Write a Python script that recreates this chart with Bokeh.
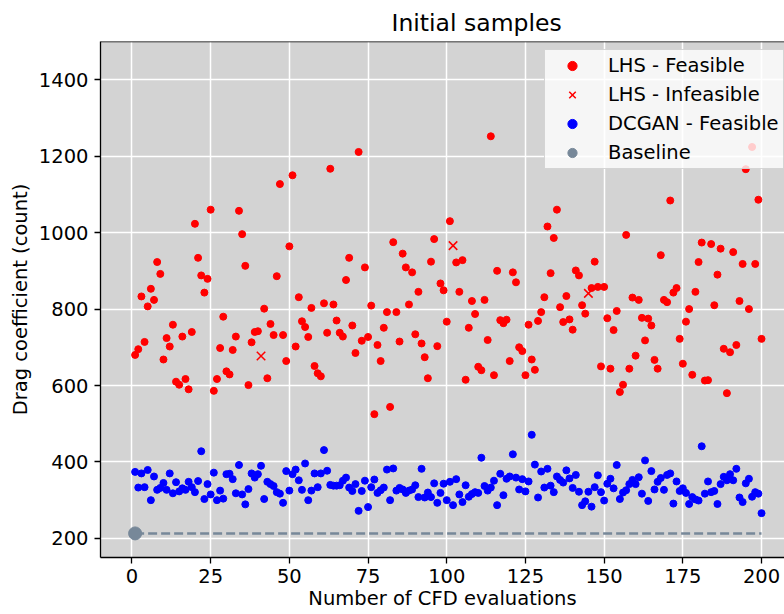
from bokeh.plotting import figure
from bokeh.models import Range1d, FixedTicker, Span, Legend, LegendItem
from bokeh.embed import file_html
from bokeh.resources import INLINE

# ---------------- data ----------------
evals = list(range(1, 201))

lhs_drag = [
    680, 695, 833, 714, 807, 853, 824, 923, 892, 668,
    724, 702, 759, 610, 602, 728, 617, 590, 740, 1023,
    934, 888, 843, 879, 1060, 586, 617, 698, 780, 637,
    629, 693, 728, 1057, 996, 913, 601, 713, 740, 742,
    677, 801, 619, 761, 732, 886, 1127, 732, 664, 964,
    1150, 702, 831, 768, 753, 727, 803, 651, 632, 624,
    815, 738, 1167, 812, 770, 738, 728, 876, 934, 757,
    685, 1211, 717, 909, 727, 809, 525, 706, 664, 751,
    792, 544, 975, 792, 715, 945, 909, 812, 896, 734,
    845, 710, 674, 619, 924, 983, 703, 867, 849, 767,
    1030, 966, 922, 845, 928, 615, 751, 821, 787, 649,
    640, 824, 719, 1252, 627, 900, 771, 763, 772, 664,
    896, 870, 700, 690, 627, 759, 668, 641, 769, 792,
    831, 1016, 894, 986, 1060, 805, 766, 834, 773, 746,
    901, 888, 810, 788, 841, 855, 924, 858, 650, 858,
    776, 644, 745, 795, 583, 602, 994, 644, 830, 678,
    824, 777, 718, 775, 757, 667, 644, 941, 824, 818,
    1084, 843, 855, 722, 657, 767, 800, 628, 845, 923,
    974, 613, 614, 970, 810, 890, 958, 696, 580, 687,
    949, 706, 821, 918, 1166, 800, 1224, 918, 1086, 722,
]
lhs_infeasible_evals = [41, 102, 145]

dcgan_drag = [
    374, 333, 370, 334, 379, 300, 362, 327, 332, 345,
    327, 370, 318, 347, 323, 331, 327, 348, 334, 321,
    350, 428, 303, 342, 315, 372, 300, 325, 304, 368,
    369, 355, 318, 392, 315, 289, 329, 370, 359, 368,
    390, 303, 348, 342, 337, 321, 317, 293, 376, 325,
    368, 380, 352, 327, 396, 300, 325, 370, 334, 370,
    431, 377, 340, 338, 338, 339, 351, 359, 333, 324,
    342, 272, 324, 351, 282, 334, 354, 319, 326, 333,
    380, 300, 383, 325, 332, 328, 319, 325, 328, 339,
    308, 382, 307, 320, 308, 344, 293, 319, 343, 300,
    348, 287, 355, 315, 295, 339, 309, 316, 321, 319,
    411, 337, 325, 333, 351, 287, 369, 313, 356, 362,
    420, 359, 328, 355, 323, 349, 471, 393, 307, 375,
    333, 382, 338, 321, 362, 353, 346, 378, 357, 332,
    366, 322, 287, 297, 322, 283, 334, 365, 321, 299,
    343, 356, 331, 392, 303, 320, 326, 342, 353, 342,
    360, 317, 404, 298, 376, 328, 348, 358, 327, 366,
    370, 291, 349, 324, 331, 319, 290, 308, 302, 299,
    441, 317, 349, 321, 324, 290, 342, 361, 352, 368,
    352, 382, 307, 295, 344, 356, 309, 321, 317, 266,
]

baseline_drag = 213
baseline_span = [1, 200]

x_ticks = [0, 25, 50, 75, 100, 125, 150, 175, 200]
y_ticks = [200, 400, 600, 800, 1000, 1200, 1400]

feas_x = [e for e in evals if e not in lhs_infeasible_evals]
feas_y = [d for e, d in zip(evals, lhs_drag) if e not in lhs_infeasible_evals]
infeas_x = [e for e in evals if e in lhs_infeasible_evals]
infeas_y = [d for e, d in zip(evals, lhs_drag) if e in lhs_infeasible_evals]

FONT = "DejaVu Sans"
FS = "19.5px"

# ---------------- figure ----------------
p = figure(width=784, height=614, output_backend="svg", toolbar_location=None,
           x_range=Range1d(-10, 207.3), y_range=Range1d(150, 1500),
           min_border_left=100, min_border_right=0, min_border_top=41,
           min_border_bottom=57)

p.background_fill_color = "#d3d3d3"
p.border_fill_color = "white"
p.outline_line_color = None

p.title.text = "Initial samples"
p.title.text_font = FONT
p.title.text_font_size = "23.5px"
p.title.text_font_style = "normal"
p.title.align = "left"
p.title.offset = 291
p.title.standoff = 10
p.title.text_color = "black"

for ax in (p.xaxis[0], p.yaxis[0]):
    ax.major_label_text_font = FONT
    ax.major_label_text_font_size = FS
    ax.major_label_text_color = "black"
    ax.axis_label_text_font = FONT
    ax.axis_label_text_font_size = FS
    ax.axis_label_text_font_style = "normal"
    ax.axis_label_text_color = "black"
    ax.major_tick_out = 6
    ax.major_tick_in = 0
    ax.minor_tick_line_color = None
    ax.axis_line_width = 1.3
    ax.major_tick_line_width = 1.3
    ax.axis_line_color = "black"
    ax.major_tick_line_color = "black"

p.xaxis.ticker = FixedTicker(ticks=x_ticks)
p.yaxis.ticker = FixedTicker(ticks=y_ticks)
p.xaxis.axis_label = "Number of CFD evaluations"
p.yaxis.axis_label = "Drag coefficient (count)"
p.xaxis.major_label_standoff = 5
p.xaxis.axis_label_standoff = 1
p.yaxis.major_label_standoff = 6
p.yaxis.axis_label_standoff = 4

p.xgrid.ticker = FixedTicker(ticks=x_ticks)
p.ygrid.ticker = FixedTicker(ticks=y_ticks)
for g in (p.xgrid[0], p.ygrid[0]):
    g.grid_line_color = "white"
    g.grid_line_width = 1.5

# top spine
p.add_layout(Span(location=1500, dimension="width", line_color="black", line_width=1.5))

# ---------------- glyphs ----------------
r_feas = p.scatter(feas_x, feas_y, marker="circle", size=7,
                   fill_color="#ff0000", line_color="#ff0000")
r_infeas = p.scatter(infeas_x, infeas_y, marker="x", size=12,
                     line_color="#ff0000", line_width=1.5)
r_dcgan = p.scatter(evals, dcgan_drag, marker="circle", size=7,
                    fill_color="#0000ff", line_color="#0000ff")
p.line(baseline_span, [baseline_drag, baseline_drag], line_color="#778899",
       line_width=2.5, line_dash="9 4")
r_base = p.scatter([baseline_span[0]], [baseline_drag], marker="circle", size=13,
                   fill_color="#778899", line_color="#778899")

legend = Legend(items=[
    LegendItem(label="LHS - Feasible", renderers=[r_feas]),
    LegendItem(label="LHS - Infeasible", renderers=[r_infeas]),
    LegendItem(label="DCGAN - Feasible", renderers=[r_dcgan]),
    LegendItem(label="Baseline", renderers=[r_base]),
], location=(444, 388))
legend.margin = 0
legend.padding = 4
legend.spacing = 6
legend.glyph_width = 46
legend.glyph_height = 23
legend.label_height = 23
legend.label_standoff = 13
legend.label_text_font = FONT
legend.label_text_font_size = FS
legend.label_text_color = "black"
legend.background_fill_color = "white"
legend.background_fill_alpha = 0.8
legend.border_line_color = "#cccccc"
legend.border_line_alpha = 0.8
legend.border_line_width = 1
p.add_layout(legend)

open("out.html", "w").write(file_html(p, INLINE))
